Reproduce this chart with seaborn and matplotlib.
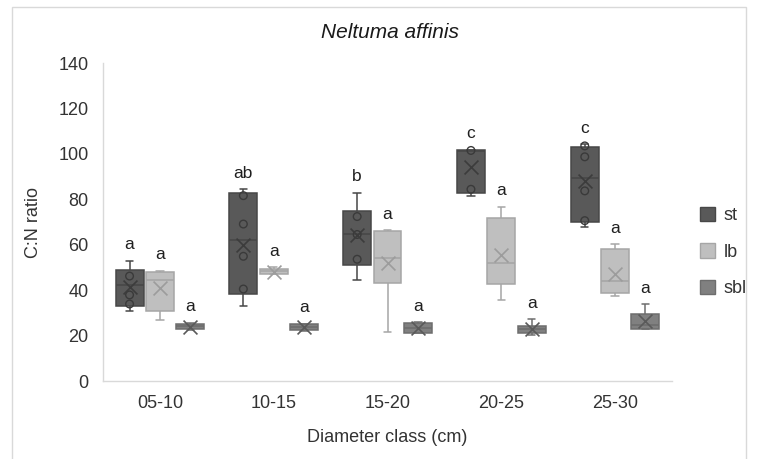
import numpy as np
import pandas as pd
import matplotlib
matplotlib.use("Agg")
import matplotlib.pyplot as plt
from matplotlib.patches import Patch, Rectangle
import seaborn as sns

# Diameter classes and tissue series
classes = ["05-10", "10-15", "15-20", "20-25", "25-30"]
series = ["st", "lb", "sbl"]

# Five-number summaries per class: lower whisker, Q1, median, Q3, upper whisker
st_stats = [
    [31.0, 33.0, 42.1, 48.7, 53.0],
    [33.2, 38.3, 62.1, 82.6, 84.4],
    [44.5, 50.9, 64.7, 75.0, 82.9],
    [81.6, 82.9, 101.3, 101.6, 101.8],
    [67.9, 70.2, 89.5, 103.0, 104.2],
]
lb_stats = [
    [26.9, 30.8, 44.5, 48.0, 48.6],
    [46.9, 47.2, 48.4, 49.5, 50.0],
    [21.4, 43.3, 54.0, 65.9, 66.5],
    [35.7, 42.7, 51.8, 71.6, 76.8],
    [37.6, 38.6, 44.0, 58.0, 60.2],
]
sbl_stats = [
    [22.6, 23.0, 24.0, 25.2, 25.6],
    [22.2, 22.4, 23.7, 25.0, 25.2],
    [21.0, 21.2, 23.5, 25.6, 25.9],
    [20.3, 21.0, 22.7, 24.2, 27.2],
    [22.8, 22.9, 24.7, 29.4, 33.9],
]

# Mean values per class
st_means = [41.5, 59.9, 64.3, 94.1, 88.2]
lb_means = [40.8, 48.0, 51.8, 55.5, 47.1]
sbl_means = [23.9, 23.7, 23.3, 23.0, 26.6]

# Individual observations shown inside the st boxes
st_points = [
    [46.2, 37.9, 33.9],
    [81.6, 69.1, 54.9, 40.5],
    [72.4, 64.5, 53.6],
    [101.5, 84.4],
    [103.5, 98.7, 83.7, 70.6],
]

# Significance letters
st_letters = ["a", "ab", "b", "c", "c"]
lb_letters = ["a", "a", "a", "a", "a"]
sbl_letters = ["a", "a", "a", "a", "a"]

stats = {"st": st_stats, "lb": lb_stats, "sbl": sbl_stats}
means = {"st": st_means, "lb": lb_means, "sbl": sbl_means}
letters = {"st": st_letters, "lb": lb_letters, "sbl": sbl_letters}

fill_colors = {"st": "#595959", "lb": "#bfbfbf", "sbl": "#808080"}
edge_colors = {"st": "#474747", "lb": "#a6a6a6", "sbl": "#6d6d6d"}
mean_colors = {"st": "#3c3c3c", "lb": "#9c9c9c", "sbl": "#5a5a5a"}

box_df = pd.DataFrame(
    [(c, s, v) for s in series for c, row in zip(classes, stats[s]) for v in row],
    columns=["class", "series", "value"],
)
mean_df = pd.DataFrame(
    [(c, s, v) for s in series for c, v in zip(classes, means[s])],
    columns=["class", "series", "value"],
)
point_df = pd.DataFrame(
    [(c, "st", v) for c, row in zip(classes, st_points) for v in row],
    columns=["class", "series", "value"],
)

sns.set_theme(style="white")
plt.rcParams["font.family"] = ["Liberation Sans", "DejaVu Sans"]

fig, ax = plt.subplots(figsize=(7.57, 4.59), dpi=100)
fig.subplots_adjust(left=103 / 757, right=672 / 757, bottom=1 - 381 / 459, top=1 - 63 / 459)

WIDTH = 0.8
for s in series:
    sns.boxplot(
        data=box_df[box_df["series"] == s], x="class", y="value",
        hue="series", order=classes, hue_order=series, palette=fill_colors,
        dodge=True, width=WIDTH, gap=0.08, whis=(0, 100), showfliers=False,
        linecolor=edge_colors[s], linewidth=1.1,
        medianprops=dict(color=edge_colors[s], linewidth=1.2),
        capwidths=0.065, legend=False, ax=ax,
    )

# Inner observation circles
n0 = len(ax.collections)
sns.stripplot(
    data=point_df, x="class", y="value", hue="series", order=classes,
    hue_order=series, palette=mean_colors, dodge=True, jitter=False,
    marker="o", size=5.5, legend=False, ax=ax,
)
for coll in ax.collections[n0:]:
    coll.set_facecolor("none")
    coll.set_edgecolor("#3a3a3a")
    coll.set_linewidth(1.0)
    coll.set_zorder(4)

# Mean markers
n0 = len(ax.collections)
sns.stripplot(
    data=mean_df, x="class", y="value", hue="series", order=classes,
    hue_order=series, palette=mean_colors, dodge=True, jitter=False,
    marker="x", size=10, legend=False, ax=ax,
)
for coll in ax.collections[n0:]:
    fc = coll.get_facecolors()
    if len(fc):
        coll.set_edgecolors(fc)
    coll.set_linewidths(1.2)
    coll.set_zorder(4)

# Letters above the upper whiskers
step = WIDTH / len(series)
for j, s in enumerate(series):
    for i, c in enumerate(classes):
        top = stats[s][i][4]
        ax.text(i + (j - 1) * step, top + 7.0, letters[s][i], ha="center",
                va="center", fontsize=12.5, color="#1f1f1f")

ax.set_xlim(-0.5, 4.5)
ax.set_ylim(0, 140)
ax.set_yticks(np.arange(0, 141, 20))
ax.tick_params(axis="both", length=0, labelsize=13, colors="#333333")
ax.tick_params(axis="y", pad=10.5)
ax.tick_params(axis="x", pad=10)
for side in ["top", "right"]:
    ax.spines[side].set_visible(False)
for side in ["left", "bottom"]:
    ax.spines[side].set_color("#d9d9d9")
    ax.spines[side].set_linewidth(1.0)

ax.set_xlabel("Diameter class (cm)", fontsize=13, color="#333333")
ax.set_ylabel("C:N ratio", fontsize=13, color="#333333")
ax.xaxis.label.set_va("center")
ax.yaxis.label.set_va("center")
ax.xaxis.set_label_coords(0.5, (381 - 437) / 318)
ax.yaxis.set_label_coords((33 - 103) / 569, 0.5)

fig.text(390 / 757, 1 - 32 / 459, "Neltuma affinis", ha="center", va="center",
         fontsize=15, style="italic", color="#1a1a1a")

handles = [Patch(facecolor=fill_colors[s], edgecolor=edge_colors[s], label=s) for s in series]
fig.legend(
    handles=handles, loc="center left", bbox_to_anchor=(700 / 757, 1 - 252 / 459),
    frameon=False, fontsize=13, handlelength=0.85, handleheight=0.85,
    handletextpad=0.45, labelspacing=1.05, borderpad=0, borderaxespad=0,
    labelcolor="#333333",
)

# Chart area border
fig.patches.append(Rectangle((12 / 757, -0.02), (746 - 12) / 757, 1 - 7 / 459 + 0.02,
                             transform=fig.transFigure, fill=False,
                             edgecolor="#d9d9d9", linewidth=1.0))

fig.savefig("out.png", dpi=100)
